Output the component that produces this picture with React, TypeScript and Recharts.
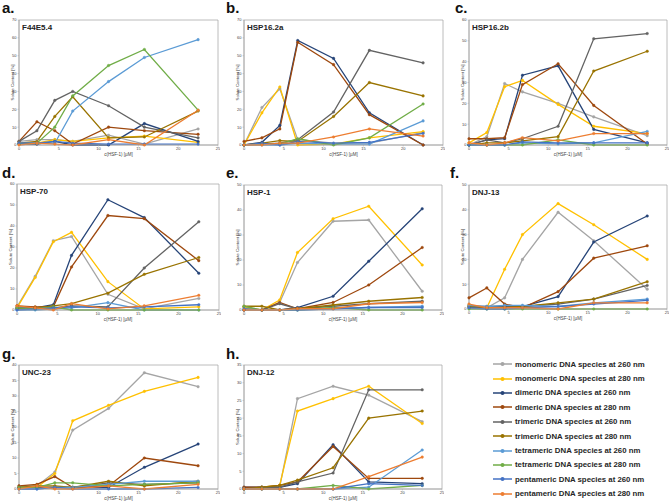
import React from 'react';
import { LineChart, Line, XAxis, YAxis, ReferenceArea } from 'recharts';

// HSF-1 concentrations (x values, µM)
const hsfConc = [0, 2.25, 4.5, 6.75, 11.25, 15.75, 22.5];

const seriesKeys = [
  'mono260',
  'mono280',
  'di260',
  'di280',
  'tri260',
  'tri280',
  'tetra260',
  'tetra280',
  'penta260',
  'penta280',
];

const seriesNames = [
  'monomeric DNA species at 260 nm',
  'monomeric DNA species at 280 nm',
  'dimeric DNA species at 260 nm',
  'dimeric DNA species at 280 nm',
  'trimeric DNA species at 260 nm',
  'trimeric DNA species at 280 nm',
  'tetrameric DNA species at 260 nm',
  'tetrameric DNA species at 280 nm',
  'pentameric DNA species at 260 nm',
  'pentameric DNA species at 280 nm',
];

const seriesColors = [
  '#A5A5A5',
  '#FFC000',
  '#264478',
  '#9E480E',
  '#636363',
  '#997300',
  '#5B9BD5',
  '#70AD47',
  '#4472C4',
  '#ED7D31',
];

// solute content [%], rows in legend order
const f44e54 = [
  [2, 3, 3, 2, 5.5, 0.5, 9],
  [1, 1, 3, 2, 4, 5, 1.5],
  [0.5, 0.5, 2, 0, 0, 12, 2],
  [2, 13, 8, 0.5, 10, 8, 6],
  [2, 8, 25, 30, 22, 10, 4],
  [1, 2, 16, 27, 4, 4.5, 19],
  [1, 1, 1, 19, 35.5, 49, 59],
  [0.5, 1, 10, 27.5, 44.5, 53.5, 19.5],
  [1, 1, 2, 1, 0.5, 0.5, 0.5],
  [0, 1, 0.5, 0, 3, 0, 19.5],
];

const hsp162a = [
  [0, 21, 31.5, 3, 1, 1, 7],
  [0, 18, 32.5, 0, 0.5, 4, 7.5],
  [0, 1.5, 11, 58.5, 48.5, 18, 0],
  [2, 4, 9, 57.5, 45, 17, 0],
  [0, 0.5, 1, 3, 18.5, 53, 46],
  [0, 1, 2.5, 2, 16, 35, 27.5],
  [0, 0, 0, 1, 0.5, 0.5, 13.5],
  [0, 0.5, 0.5, 3.5, 0, 4, 23],
  [0, 1, 0, 2, 1, 1.5, 6.5],
  [0, 0, 1, 1, 4.5, 9, 5],
];

const hsp162b = [
  [0, 4, 29.5, 25.5, 20, 13.5, 4.5],
  [1, 6, 28, 31, 19.5, 9, 5.5],
  [0, 2.5, 3, 33.5, 38, 7.5, 1],
  [3, 3, 3.5, 29, 39, 19, 0.5],
  [0, 2.5, 1, 3, 9, 51, 53.5],
  [0, 1, 1, 2, 4, 35.5, 45],
  [0, 0, 0, 1, 0.5, 1, 6.5],
  [0, 0, 0, 0, 2.5, 0, 0],
  [0, 0, 0, 1.5, 1, 1, 1],
  [1, 0, 1, 3.5, 2, 5.5, 5.5],
];

const hsp70 = [
  [1.5, 16, 33, 35, 7.5, 0.5, 5.5],
  [1, 15.5, 32.5, 37, 13.5, 0.5, 1.5],
  [1, 1, 2.5, 26, 52.5, 44, 17.5],
  [2, 1.5, 1.5, 20.5, 45, 43.5, 23.5],
  [0.5, 0.5, 1, 2, 1.5, 20, 42],
  [0.5, 1, 2, 3, 8, 17, 25],
  [0, 0, 0.5, 1, 3.5, 0, 0],
  [1, 0.5, 1.5, 0, 0, 0, 0],
  [0, 0.5, 1, 1.5, 1, 1.5, 2.5],
  [2, 1, 0, 3, 0.5, 2, 7],
];

const hsp1 = [
  [1, 0, 3, 19, 35.5, 36, 7.5],
  [1, 0, 4, 23, 36.5, 41.5, 18],
  [0, 0, 0, 1, 5.5, 19.5, 40.5],
  [0, 0, 3, 0.5, 3, 10, 25],
  [0, 0, 2.5, 0.5, 1.5, 2.5, 3.5],
  [1.5, 1.5, 0, 0.5, 2, 3.5, 5],
  [0, 0, 0, 0, 0.5, 1, 1.5],
  [1.5, 0, 0, 0, 1, 0, 0],
  [0.5, 0, 0, 0, 0.5, 1, 1],
  [0, 0, 0, 0.5, 0.5, 2.5, 3],
];

const dnj13 = [
  [1.5, 0.5, 4.5, 20, 39, 27.5, 8],
  [1.5, 0.5, 16, 30, 42.5, 34, 20],
  [0.5, 0.5, 1, 1, 5, 27, 37.5],
  [4.5, 8.5, 2, 0.5, 7, 20.5, 25.5],
  [1, 1, 1, 1, 2, 4, 9.5],
  [1, 0.5, 0.5, 1, 2.5, 4, 11],
  [1.5, 1, 1.5, 1.5, 1, 2.5, 4],
  [0, 0, 0, 0, 0, 0, 0],
  [0.5, 0, 0, 0.5, 1, 2, 3.5],
  [2, 0.5, 0.5, 0.5, 0, 2.5, 2.5],
];

const unc23 = [
  [1, 1, 5.5, 19, 26, 37.5, 33],
  [0.5, 0.5, 5, 22, 27, 31.5, 36],
  [0.5, 0.5, 0.5, 0.5, 0.5, 7, 14.5],
  [1, 1.5, 4, 0.5, 1, 10, 7.5],
  [0.5, 0.5, 0.5, 0.5, 2, 1.5, 2],
  [0.5, 1, 1, 0.5, 2.5, 1, 2.5],
  [0, 0, 0.5, 0.5, 1.5, 2.5, 2.5],
  [0.5, 0.5, 2, 2, 1, 1.5, 2],
  [0, 0, 0.5, 0, 0, 0, 0.5],
  [0, 1, 0, 0, 1, 0, 1.5],
];

const dnj12 = [
  [0, 0.5, 0.5, 25.5, 29, 26.5, 19],
  [0, 0.5, 1, 22, 25.5, 29, 18.5],
  [0.5, 0.5, 0.5, 1.5, 12.5, 2, 1.5],
  [0.5, 0.5, 1, 2, 12, 3, 3],
  [0, 0.5, 0.5, 2, 4.5, 28, 28],
  [0, 0.5, 1, 2.5, 6, 20, 22],
  [0, 0, 0, 0, 0, 0.5, 11],
  [0, 0, 0, 0, 1, 0, 1],
  [0, 0, 0, 0, 0, 1.5, 1],
  [0, 0, 0, 0, 0, 3.5, 9],
];

const xTicks = [0, 5, 10, 15, 20, 25];

type Box = { x: number; y: number; w: number; h: number };

const YW = 16;
const MT = 4;
const MR = 2;
const XH = 14;
const axisGray = '#a6a6a6';
const textGray = '#404040';

function Panel({
  letter,
  letterX,
  letterY,
  title,
  values,
  yMax,
  yStep,
  box,
}: {
  letter: string;
  letterX: number;
  letterY: number;
  title: string;
  values: number[][];
  yMax: number;
  yStep: number;
  box: Box;
}) {
  const data = hsfConc.map((x, i) => {
    const row: Record<string, number> = { x };
    seriesKeys.forEach((k, s) => {
      row[k] = values[s][i];
    });
    return row;
  });
  const yTicks: number[] = [];
  for (let v = 0; v <= yMax; v += yStep) yTicks.push(v);

  return (
    <>
      <div
        style={{
          position: 'absolute',
          left: letterX,
          top: letterY,
          fontSize: 15,
          lineHeight: '15px',
          fontWeight: 'bold',
          color: '#111',
        }}
      >
        {letter}
      </div>
      <div style={{ position: 'absolute', left: box.x - YW, top: box.y - MT }}>
        <LineChart
          width={box.w + YW + MR}
          height={box.h + MT + XH}
          data={data}
          margin={{ top: MT, right: MR, left: 0, bottom: 0 }}
        >
          <ReferenceArea
            x1={0}
            x2={25}
            y1={0}
            y2={yMax}
            fill="#fff"
            fillOpacity={1}
            stroke={axisGray}
            strokeWidth={0.75}
          />
          <XAxis
            type="number"
            dataKey="x"
            domain={[0, 25]}
            ticks={xTicks}
            height={XH}
            tick={{ fontSize: 4, fill: textGray }}
            tickSize={1.5}
            tickMargin={0.5}
            axisLine={{ stroke: axisGray, strokeWidth: 0.75 }}
            tickLine={{ stroke: axisGray, strokeWidth: 0.5 }}
            label={{
              value: 'c(HSF-1) [µM]',
              position: 'insideBottom',
              offset: 3,
              style: { fontSize: 4.5, fill: textGray },
            }}
          />
          <YAxis
            type="number"
            domain={[0, yMax]}
            ticks={yTicks}
            width={YW}
            tick={{ fontSize: 4, fill: textGray }}
            tickSize={1.5}
            tickMargin={1}
            axisLine={{ stroke: axisGray, strokeWidth: 0.75 }}
            tickLine={{ stroke: axisGray, strokeWidth: 0.5 }}
            label={{
              value: 'Solute Content [%]',
              angle: -90,
              position: 'insideLeft',
              offset: 9,
              style: { fontSize: 4.3, fill: textGray, textAnchor: 'middle' },
            }}
          />
          {seriesKeys.map((k, s) => (
            <Line
              key={k}
              type="linear"
              dataKey={k}
              stroke={seriesColors[s]}
              strokeWidth={1.3}
              dot={{ r: 1.3, fill: seriesColors[s], stroke: seriesColors[s], strokeWidth: 0.4 }}
              activeDot={false}
              isAnimationActive={false}
            />
          ))}
        </LineChart>
        <div
          style={{
            position: 'absolute',
            left: YW + 3,
            top: MT + 3.5,
            fontSize: 8,
            lineHeight: '8px',
            fontWeight: 'bold',
            color: '#222',
            whiteSpace: 'nowrap',
          }}
        >
          {title}
        </div>
      </div>
    </>
  );
}

function SeriesLegend() {
  return (
    <div style={{ position: 'absolute', left: 493, top: 357 }}>
      {seriesNames.map((name, i) => (
        <div key={name} style={{ display: 'flex', alignItems: 'center', height: 14.4 }}>
          <svg width={20} height={6}>
            <line x1={0} y1={3} x2={19} y2={3} stroke={seriesColors[i]} strokeWidth={1.5} />
            <circle cx={9.5} cy={3} r={2} fill={seriesColors[i]} />
          </svg>
          <span
            style={{
              marginLeft: 2,
              fontSize: 7.8,
              fontWeight: 'bold',
              color: '#262626',
              whiteSpace: 'nowrap',
            }}
          >
            {name}
          </span>
        </div>
      ))}
    </div>
  );
}

export default function App() {
  return (
    <div
      style={{
        position: 'absolute',
        left: 0,
        top: 0,
        width: 669,
        height: 503,
        overflow: 'hidden',
        background: '#fff',
        fontFamily: '"Liberation Sans", Arial, sans-serif',
      }}
    >
      <Panel letter="a." letterX={2} letterY={0} title="F44E5.4" values={f44e54} yMax={70} yStep={10} box={{ x: 19, y: 20, w: 199, h: 125 }} />
      <Panel letter="b." letterX={226} letterY={0} title="HSP16.2a" values={hsp162a} yMax={70} yStep={10} box={{ x: 244, y: 20, w: 199, h: 125 }} />
      <Panel letter="c." letterX={455} letterY={0} title="HSP16.2b" values={hsp162b} yMax={60} yStep={10} box={{ x: 469, y: 20, w: 198, h: 125 }} />
      <Panel letter="d." letterX={2} letterY={165} title="HSP-70" values={hsp70} yMax={60} yStep={10} box={{ x: 17, y: 184, w: 202, h: 126 }} />
      <Panel letter="e." letterX={226} letterY={165} title="HSP-1" values={hsp1} yMax={50} yStep={10} box={{ x: 244, y: 185, w: 198, h: 125 }} />
      <Panel letter="f." letterX={450} letterY={165} title="DNJ-13" values={dnj13} yMax={50} yStep={10} box={{ x: 469, y: 185, w: 198, h: 124 }} />
      <Panel letter="g." letterX={2} letterY={346} title="UNC-23" values={unc23} yMax={40} yStep={5} box={{ x: 19, y: 365, w: 199, h: 124 }} />
      <Panel letter="h." letterX={226} letterY={346} title="DNJ-12" values={dnj12} yMax={35} yStep={5} box={{ x: 244, y: 365, w: 198, h: 124 }} />
      <SeriesLegend />
    </div>
  );
}
